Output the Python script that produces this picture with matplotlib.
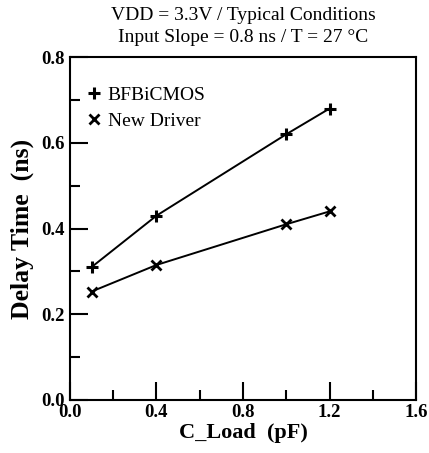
import matplotlib
matplotlib.use("Agg")
import matplotlib.pyplot as plt
from matplotlib.ticker import MultipleLocator

plt.rcParams['font.family'] = ['Liberation Serif', 'DejaVu Serif']

c_load = [0.1, 0.4, 1.0, 1.2]
bfbicmos = [0.31, 0.43, 0.62, 0.68]
new_driver = [0.253, 0.315, 0.41, 0.44]
series_names = ["BFBiCMOS", "New Driver"]
title_lines = ["VDD = 3.3V / Typical Conditions", "Input Slope = 0.8 ns / T = 27 \u00b0C"]

fig = plt.figure(figsize=(4.29, 4.53), dpi=100)
ax = fig.add_axes([0.163, 0.117, 0.807, 0.757])

ax.plot(c_load, bfbicmos, color='black', lw=1.4, marker='+', ms=9, mew=2.2,
        label=series_names[0])
ax.plot(c_load, new_driver, color='black', lw=1.4, marker='x', ms=6.5, mew=2.0,
        label=series_names[1])

ax.set_xlim(0, 1.6)
ax.set_ylim(0, 0.8)
ax.xaxis.set_major_locator(MultipleLocator(0.4))
ax.xaxis.set_minor_locator(MultipleLocator(0.2))
ax.yaxis.set_major_locator(MultipleLocator(0.2))
ax.yaxis.set_minor_locator(MultipleLocator(0.1))
ax.xaxis.set_major_formatter(matplotlib.ticker.FormatStrFormatter('%.1f'))
ax.yaxis.set_major_formatter(matplotlib.ticker.FormatStrFormatter('%.1f'))
ax.tick_params(which='major', direction='in', length=13, width=1.5, labelsize=13.5, pad=4)
ax.tick_params(which='minor', direction='in', length=7, width=1.5)
ax.tick_params(axis='x', which='major', pad=3)
for lab in ax.get_xticklabels() + ax.get_yticklabels():
    lab.set_fontweight('bold')
for s in ax.spines.values():
    s.set_linewidth(1.5)

ax.set_xlabel("C_Load  (pF)", fontsize=16, fontweight='bold', labelpad=1)
ax.set_ylabel("Delay Time  (ns)", fontsize=18.5, fontweight='bold', labelpad=5)

fig.text(0.567, 0.965, title_lines[0], ha='center', va='center', fontsize=14)
fig.text(0.567, 0.917, title_lines[1], ha='center', va='center', fontsize=14)

leg = ax.legend(loc='upper left', bbox_to_anchor=(0.0, 0.955), frameon=False,
                fontsize=14, handlelength=1.1, handletextpad=0.15, labelspacing=0.45,
                borderaxespad=0.3)
for h in leg.legend_handles:
    h.set_linestyle('None')

fig.savefig("out.png", dpi=100)
